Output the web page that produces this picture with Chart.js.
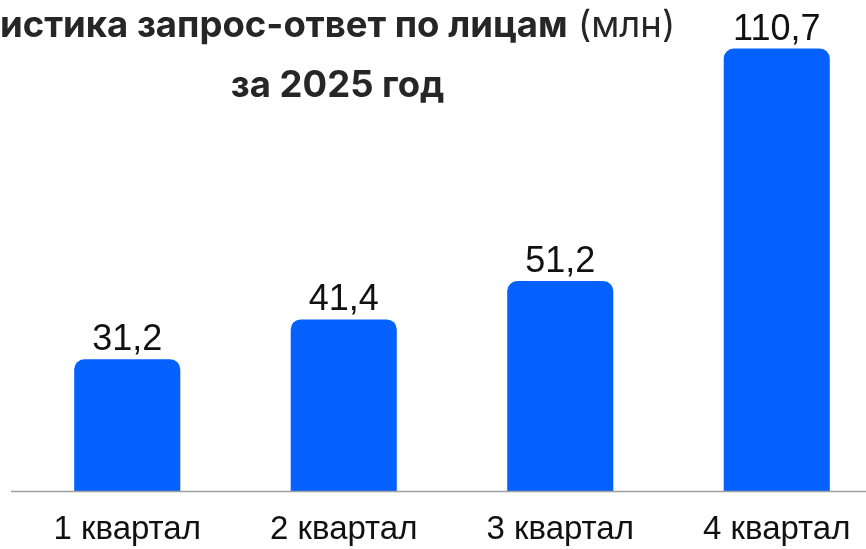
<!DOCTYPE html>
<html>
<head>
<meta charset="utf-8">
<script src="https://cdn.jsdelivr.net/npm/chart.js@4"></script>
<style>
  html, body { margin: 0; padding: 0; background: #fff; overflow: hidden; }
  #wrap { width: 890px; height: 549px; }
</style>
</head>
<body>
<div id="wrap"><canvas id="chart" width="890" height="549"></canvas></div>
<script>
const quarters = ['1 квартал', '2 квартал', '3 квартал', '4 квартал'];
const requests = [31.2, 41.4, 51.2, 110.7];
const valueLabels = ['31,2', '41,4', '51,2', '110,7'];
const titleBold = 'истика запрос-ответ по лицам';
const titleUnit = ' (млн)';
const subtitle = 'за 2025 год';

const barColor = '#0561fe';
const axisMin = -2.5;

// title, axis line and value labels drawn by hand
const extras = {
    id: 'extras',
    afterDatasetsDraw(chart) {
        const ctx = chart.ctx;
        const area = chart.chartArea;
        ctx.save();

        // baseline
        ctx.strokeStyle = '#a0a0a0';
        ctx.lineWidth = 1.5;
        ctx.beginPath();
        ctx.moveTo(11, area.bottom + 0.5);
        ctx.lineTo(chart.width, area.bottom + 0.5);
        ctx.stroke();

        // values above bars
        ctx.fillStyle = '#111';
        ctx.font = '36px "Liberation Sans"';
        ctx.textAlign = 'center';
        ctx.textBaseline = 'alphabetic';
        chart.getDatasetMeta(0).data.forEach((bar, i) => {
            ctx.fillText(valueLabels[i], bar.x, bar.y - 9);
        });

        // title
        ctx.textAlign = 'left';
        ctx.fillStyle = '#262626';
        ctx.font = 'bold 36.5px Inter';
        const w1 = ctx.measureText(titleBold).width;
        ctx.font = '36.5px Inter';
        const w2 = ctx.measureText(titleUnit).width;
        ctx.font = 'bold 36.5px Inter';
        ctx.fillText(titleBold, 0, 37);
        ctx.font = '36.5px Inter';
        ctx.fillText(titleUnit, w1, 37);

        ctx.font = 'bold 36.5px Inter';
        ctx.textAlign = 'center';
        ctx.fillText(subtitle, (w1 + w2) / 2, 97);
        ctx.restore();
    }
};

new Chart(document.getElementById('chart'), {
    type: 'bar',
    data: {
        labels: quarters,
        datasets: [{
            data: requests,
            base: axisMin,
            backgroundColor: barColor,
            borderRadius: 10,
            borderSkipped: 'bottom',
            barPercentage: 0.49,
            categoryPercentage: 1
        }]
    },
    options: {
        responsive: false,
        animation: false,
        layout: { padding: { left: 19, right: 5, top: 20, bottom: 0 } },
        plugins: { legend: { display: false }, tooltip: { enabled: false } },
        scales: {
            x: {
                grid: { display: false, drawTicks: false },
                border: { display: false },
                ticks: { color: '#111', font: { family: 'Liberation Sans', size: 33 }, padding: 19 },
                afterFit(scale) { scale.height = 58; }
            },
            y: { display: false, min: axisMin, max: 118 }
        }
    },
    plugins: [extras]
});
</script>
</body>
</html>
